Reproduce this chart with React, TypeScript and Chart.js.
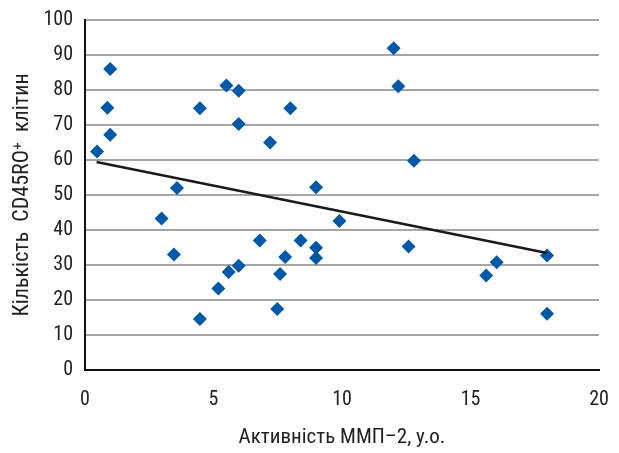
import React, { useEffect, useRef } from "react";
import { Chart, registerables } from "chart.js";

Chart.register(...registerables);

const activityX = [
  0.47, 0.87, 0.98, 0.98, 3.58, 2.98, 4.47, 5.5, 5.98, 5.98, 7.2, 7.99, 12.01,
  12.19, 12.8, 8.99, 9.9, 3.46, 4.47, 5.19, 5.59, 5.98, 6.8, 7.48, 7.59, 7.79,
  8.39, 8.99, 8.99, 12.59, 15.61, 16.02, 17.98, 17.98,
];
const cellsY = [
  62.4, 74.9, 86.0, 67.2, 52.0, 43.3, 74.8, 81.3, 79.8, 70.3, 65.0, 74.8, 91.9,
  81.1, 59.8, 52.2, 42.6, 33.0, 14.6, 23.3, 28.0, 29.8, 37.0, 17.4, 27.4, 32.3,
  37.0, 34.9, 32.0, 35.3, 27.0, 30.8, 32.7, 16.1,
];
const trendX = [0.45, 17.98];
const trendY = [59.4, 33.4];
const xTicks = [0, 5, 10, 15, 20];
const yTicks = [0, 10, 20, 30, 40, 50, 60, 70, 80, 90, 100];

const FONT = "'Liberation Sans Narrow', 'Roboto Condensed', 'Arial Narrow', 'Liberation Sans', sans-serif";

export default function App() {
  const ref = useRef<HTMLCanvasElement | null>(null);
  useEffect(() => {
    document.body.style.margin = "0";
    const canvas = ref.current!;
    const chart = new Chart(canvas, {
      type: "scatter",
      data: {
        datasets: [
          {
            type: "line",
            data: trendX.map((x, i) => ({ x, y: trendY[i] })),
            borderColor: "#1a1a1a",
            borderWidth: 2.5,
            pointRadius: 0,
            fill: false,
          },
          {
            data: activityX.map((x, i) => ({ x, y: cellsY[i] })),
            pointStyle: "rectRot",
            pointRadius: 7,
            backgroundColor: "#0058a8",
            borderColor: "#0058a8",
            borderWidth: 0,
          },
        ],
      },
      options: {
        responsive: false,
        animation: false,
        layout: { padding: { left: 0, right: 20, top: 20, bottom: 0 } },
        plugins: { legend: { display: false }, tooltip: { enabled: false } },
        scales: {
          x: {
            type: "linear",
            min: 0,
            max: 20,
            afterBuildTicks: (s: any) => {
              s.ticks = xTicks.map((v) => ({ value: v }));
            },
            afterFit: (s: any) => {
              s.height = 83;
              s.paddingLeft = 0;
              s.paddingRight = 0;
            },
            grid: { display: false, drawTicks: false },
            border: { display: true, color: "#111", width: 2 },
            ticks: {
              padding: 18,
              color: "#222",
              font: { family: FONT, size: 20 },
              maxRotation: 0,
            },
            title: {
              display: true,
              text: "Активність ММП–2, у.о.",
              color: "#222",
              font: { family: FONT, size: 21 },
              padding: { bottom: 3, top: 0 },
            },
          },
          y: {
            type: "linear",
            min: 0,
            max: 100,
            afterBuildTicks: (s: any) => {
              s.ticks = yTicks.map((v) => ({ value: v }));
            },
            afterFit: (s: any) => {
              s.width = 85;
              s.paddingTop = 0;
              s.paddingBottom = 0;
            },
            grid: { color: "#a6a6a6", lineWidth: 2, drawTicks: false },
            border: { display: true, color: "#111", width: 2 },
            ticks: {
              padding: 12,
              color: "#222",
              font: { family: FONT, size: 20 },
            },
            title: {
              display: true,
              text: "Кількість  CD45RO⁺  клітин",
              color: "#222",
              font: { family: FONT, size: 22 },
              padding: { top: 9, bottom: 0 },
            },
          },
        },
      },
    });
    return () => chart.destroy();
  }, []);
  return (
    <div style={{ width: 619, height: 453 }}>
      <canvas ref={ref} width={619} height={453} style={{ display: "block" }} />
    </div>
  );
}
